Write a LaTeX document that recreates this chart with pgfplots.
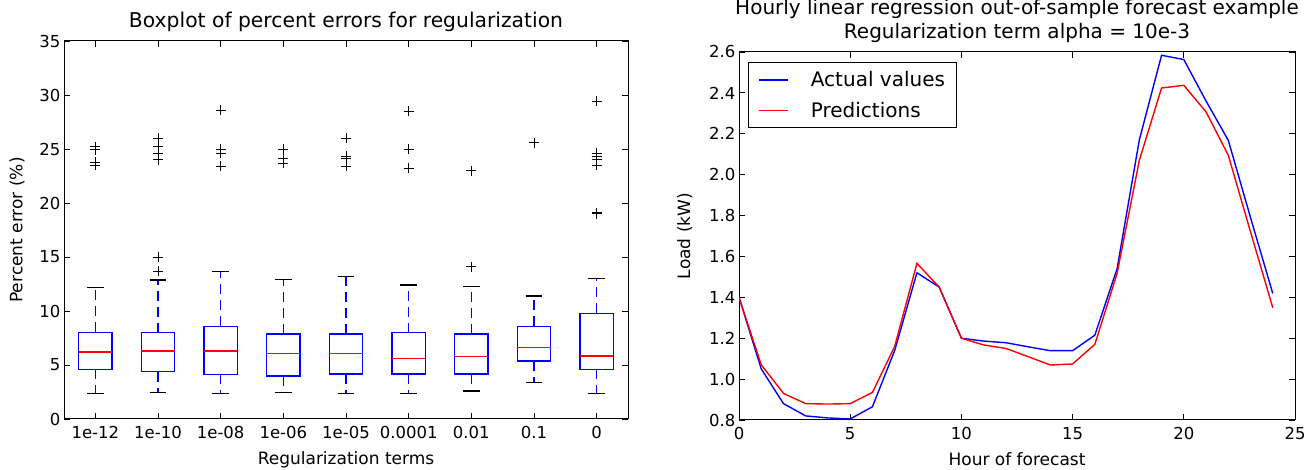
\documentclass[border=0pt]{standalone}
\usepackage{fontspec}
\setmainfont{DejaVu Sans}
\usepackage{pgfplots}
\pgfplotsset{compat=1.18}
\usepgfplotslibrary{statistics}

\pgfplotsset{
  mplstyle/.style={
    scale only axis,
    axis line style={line width=1pt},
    every tick/.style={black, line width=0.8pt},
    major tick length=6pt,
    tick align=inside,
    /pgf/number format/assume math mode=true,
    tick label style={font=\fontsize{16.5}{19}\selectfont},
    xticklabel style={yshift=-4pt},
    label style={font=\fontsize{17}{20}\selectfont},
    xlabel style={yshift=-6pt},
  },
  box/.style={black, mark=+, mark size=5pt, mark options={line width=0.9pt},
    boxplot prepared={#1}},
}

\begin{document}
\begin{tikzpicture}

% left: boxplot of percent errors
\begin{axis}[mplstyle,
  at={(64pt,51pt)}, anchor=south west,
  width=564pt, height=378pt,
  xmin=0.5, xmax=9.5, ymin=0, ymax=35,
  xtick={1,...,9},
  xticklabels={1e-12,1e-10,1e-08,1e-06,1e-05,0.0001,0.01,0.1,0},
  ytick={0,5,...,35},
  title={Boxplot of percent errors for regularization},
  title style={font=\fontsize{20.3}{24}\selectfont},
  xlabel={Regularization terms},
  ylabel={Percent error (\%)},
  ylabel style={yshift=8pt},
  boxplot/draw direction=y,
  boxplot/box extend=0.53,
  boxplot/whisker extend=0.27,
  boxplot/every box/.style={draw=blue, line width=1.4pt},
  boxplot/every median/.style={draw=red, line width=1.4pt},
  boxplot/draw/lower whisker/.code={
    \draw[blue, line width=1.4pt, dash pattern=on 10pt off 6pt]
      (boxplot box cs:\pgfplotsboxplotvalue{lower quartile},0.5) --
      (boxplot box cs:\pgfplotsboxplotvalue{lower whisker},0.5);
    \draw[black, line width=1.4pt]
      (boxplot whisker cs:\pgfplotsboxplotvalue{lower whisker},0) --
      (boxplot whisker cs:\pgfplotsboxplotvalue{lower whisker},1);
  },
  boxplot/draw/upper whisker/.code={
    \draw[blue, line width=1.4pt, dash pattern=on 10pt off 6pt]
      (boxplot box cs:\pgfplotsboxplotvalue{upper quartile},0.5) --
      (boxplot box cs:\pgfplotsboxplotvalue{upper whisker},0.5);
    \draw[black, line width=1.4pt]
      (boxplot whisker cs:\pgfplotsboxplotvalue{upper whisker},0) --
      (boxplot whisker cs:\pgfplotsboxplotvalue{upper whisker},1);
  },
]
\addplot[box={draw position=1, lower whisker=2.38, lower quartile=4.6,
  median=6.2, upper quartile=8.03, upper whisker=12.2}]
  coordinates {(0,25.2) (0,24.95) (0,23.8) (0,23.5)};
\addplot[box={draw position=2, lower whisker=2.47, lower quartile=4.38,
  median=6.3, upper quartile=8.0, upper whisker=12.87}]
  coordinates {(0,26.0) (0,25.2) (0,24.6) (0,24.0) (0,15.0) (0,13.7)};
\addplot[box={draw position=3, lower whisker=2.35, lower quartile=4.13,
  median=6.3, upper quartile=8.58, upper whisker=13.67}]
  coordinates {(0,28.6) (0,24.97) (0,24.6) (0,23.4)};
\addplot[box={draw position=4, lower whisker=2.47, lower quartile=3.98,
  median=6.08, upper quartile=7.87, upper whisker=12.9}]
  coordinates {(0,25.0) (0,24.1) (0,23.7)};
\addplot[box={draw position=5, lower whisker=2.38, lower quartile=4.17,
  median=6.08, upper quartile=7.87, upper whisker=13.2}]
  coordinates {(0,26.0) (0,24.35) (0,24.1) (0,23.4)};
\addplot[box={draw position=6, lower whisker=2.38, lower quartile=4.17,
  median=5.6, upper quartile=8.0, upper whisker=12.4}]
  coordinates {(0,28.5) (0,24.97) (0,23.2)};
\addplot[box={draw position=7, lower whisker=2.6, lower quartile=4.17,
  median=5.77, upper quartile=7.87, upper whisker=12.25}]
  coordinates {(0,23.0) (0,14.1)};
\addplot[box={draw position=8, lower whisker=3.4, lower quartile=5.37,
  median=6.64, upper quartile=8.58, upper whisker=11.4}]
  coordinates {(0,25.6)};
\addplot[box={draw position=9, lower whisker=2.35, lower quartile=4.6,
  median=5.83, upper quartile=9.78, upper whisker=13.0}]
  coordinates {(0,29.4) (0,24.6) (0,24.35) (0,24.0) (0,23.5) (0,19.1) (0,19.0)};
\end{axis}

% right: forecast example
\begin{axis}[mplstyle,
  at={(739pt,50pt)}, anchor=south west,
  width=556pt, height=368pt,
  xmin=0, xmax=25, ymin=0.8, ymax=2.6,
  xtick={0,5,...,25},
  ytick={0.8,1,1.2,1.4,1.6,1.8,2,2.2,2.4,2.6},
  yticklabel style={/pgf/number format/.cd, fixed, fixed zerofill, precision=1},
  title={Hourly linear regression out-of-sample forecast example\\Regularization term alpha = 10e-3},
  title style={align=center, font=\fontsize{20}{24}\selectfont},
  xlabel={Hour of forecast},
  ylabel={Load (kW)},
  ylabel style={yshift=10pt},
  legend style={at={(0.016,0.973)}, anchor=north west, draw=black, line width=1pt,
    font=\fontsize{20}{24}\selectfont, inner xsep=10pt, inner ysep=7pt, row sep=10pt,
    /tikz/every odd column/.append style={column sep=20pt}},
  legend cell align=left,
  legend image code/.code={\draw[#1, line width=1.5pt] (0pt,0pt) -- (29pt,0pt);},
]
\addplot[blue, line width=1.4pt] coordinates {
  (0,1.40) (1,1.05) (2,0.88) (3,0.82) (4,0.81) (5,0.805) (6,0.865) (7,1.14)
  (8,1.52) (9,1.45) (10,1.20) (11,1.186) (12,1.178) (13,1.158) (14,1.139)
  (15,1.139) (16,1.215) (17,1.54) (18,2.17) (19,2.584) (20,2.563) (21,2.36)
  (22,2.168) (23,1.79) (24,1.419)};
\addplot[red, line width=1.4pt] coordinates {
  (0,1.40) (1,1.07) (2,0.93) (3,0.88) (4,0.878) (5,0.88) (6,0.935) (7,1.16)
  (8,1.566) (9,1.45) (10,1.20) (11,1.167) (12,1.15) (13,1.11) (14,1.069)
  (15,1.074) (16,1.17) (17,1.517) (18,2.07) (19,2.424) (20,2.437) (21,2.307)
  (22,2.095) (23,1.72) (24,1.349)};
\legend{Actual values, Predictions}
\end{axis}

\pgfresetboundingbox
\path (0,0) rectangle (1311pt,470pt);
\end{tikzpicture}
\end{document}
